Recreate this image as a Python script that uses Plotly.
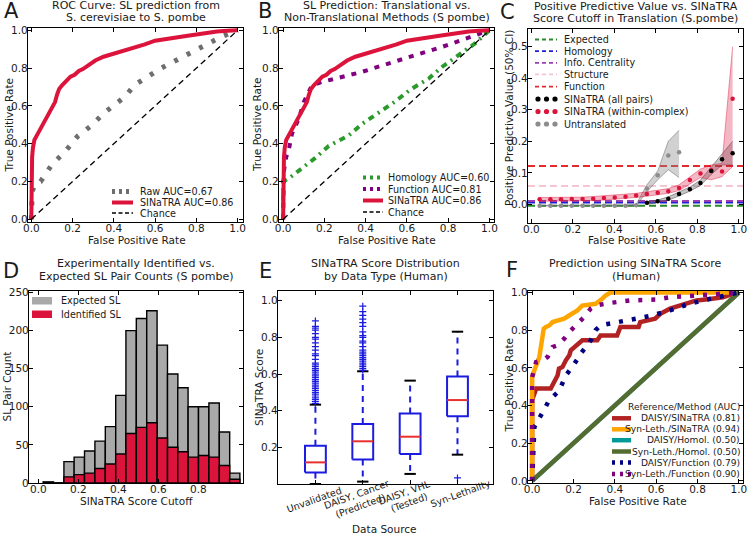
import plotly.graph_objects as go

W, H = 747, 535
FONT = "DejaVu Sans"
INK = "#1a1a1a"

# ---------------- data ----------------
# Panel A / B : ROC curves, S. pombe
sinatra_fpr = [0.0, 0.0, 0.004, 0.008, 0.015, 0.025, 0.04, 0.06, 0.075, 0.09, 0.105, 0.115, 0.125, 0.135,
               0.15, 0.17, 0.19, 0.21, 0.23, 0.25, 0.28, 0.31, 0.35, 0.4, 0.45, 0.5, 0.55, 0.6, 0.65, 0.7,
               0.75, 0.8, 0.85, 0.9, 0.95, 1.0]
sinatra_tpr = [0.0, 0.2, 0.33, 0.38, 0.42, 0.44, 0.47, 0.5, 0.53, 0.57, 0.6, 0.62, 0.66, 0.69,
               0.71, 0.735, 0.755, 0.765, 0.785, 0.795, 0.815, 0.84, 0.86, 0.875, 0.895, 0.91, 0.925, 0.945,
               0.955, 0.96, 0.97, 0.978, 0.988, 0.993, 0.997, 1.0]
raw_fpr = [0.0, 0.005, 0.02, 0.045, 0.1, 0.165, 0.225, 0.29, 0.35, 0.4, 0.455, 0.5, 0.57, 0.63, 0.7,
           0.78, 0.86, 0.92, 1.0]
raw_tpr = [0.0, 0.15, 0.19, 0.2, 0.29, 0.36, 0.44, 0.495, 0.56, 0.6, 0.65, 0.71, 0.76, 0.8, 0.84,
           0.885, 0.93, 0.965, 1.0]
chance_fpr = [0.0, 1.0]
chance_tpr = [0.0, 1.0]
homology_fpr = [0.0, 0.0, 0.027, 0.092, 0.156, 0.221, 0.318, 0.382, 0.463, 0.544, 0.616, 0.705, 0.77,
                0.85, 0.93, 1.0]
homology_tpr = [0.0, 0.2, 0.216, 0.268, 0.325, 0.388, 0.444, 0.504, 0.564, 0.624, 0.686, 0.744, 0.806,
                0.868, 0.93, 1.0]
function_fpr = [0.0, 0.003, 0.015, 0.027, 0.043, 0.076, 0.1, 0.124, 0.14, 0.19, 0.245, 0.31, 0.382,
                0.455, 0.527, 0.608, 0.689, 0.77, 0.84, 0.9, 1.0]
function_tpr = [0.0, 0.25, 0.33, 0.365, 0.453, 0.533, 0.62, 0.68, 0.709, 0.727, 0.74, 0.76, 0.78,
                0.806, 0.829, 0.859, 0.885, 0.912, 0.938, 0.965, 1.0]

# Panel C : positive predictive value
ppv_fpr = [0.04, 0.092, 0.143, 0.195, 0.247, 0.298, 0.35, 0.402, 0.454, 0.505, 0.557, 0.609, 0.66,
           0.712, 0.764, 0.815, 0.867, 0.919, 0.97]
ppv_within = [0.016, 0.016, 0.016, 0.017, 0.017, 0.018, 0.02, 0.022, 0.024, 0.028, 0.033, 0.037, 0.042,
              0.052, 0.077, 0.098, 0.108, 0.104, 0.335]
ppv_within_lo = [0.010, 0.010, 0.010, 0.011, 0.011, 0.012, 0.014, 0.016, 0.018, 0.022, 0.026, 0.030, 0.035,
                 0.044, 0.066, 0.085, 0.078, 0.088, 0.12]
ppv_within_hi = [0.022, 0.022, 0.022, 0.023, 0.023, 0.025, 0.027, 0.029, 0.031, 0.035, 0.040, 0.045, 0.050,
                 0.062, 0.088, 0.112, 0.125, 0.13, 0.50]
ppv_all_fpr = [0.557, 0.609, 0.66, 0.712, 0.764, 0.815, 0.867, 0.919, 0.97]
ppv_all = [0.005, 0.01, 0.018, 0.033, 0.048, 0.068, 0.106, 0.143, 0.162]
ppv_all_lo = [0.0, 0.006, 0.013, 0.027, 0.042, 0.06, 0.095, 0.125, 0.125]
ppv_all_hi = [0.008, 0.014, 0.024, 0.04, 0.055, 0.077, 0.117, 0.16, 0.2]
ppv_untr_fpr = [0.04, 0.092, 0.143, 0.195, 0.247, 0.298, 0.35, 0.402, 0.454, 0.505, 0.557, 0.609, 0.66, 0.712]
ppv_untr = [-0.004, -0.004, -0.004, -0.004, -0.004, -0.004, -0.004, -0.004, -0.004, -0.003, 0.05, 0.092,
            0.155, 0.165]
ppv_untr_lo = [-0.005, -0.005, -0.005, -0.005, -0.005, -0.005, -0.005, -0.005, -0.005, -0.005, 0.04, 0.078,
               0.11, 0.085]
ppv_untr_hi = [-0.003, -0.003, -0.003, -0.003, -0.003, -0.003, -0.003, -0.003, -0.002, 0.0, 0.062, 0.106,
               0.2, 0.235]
baseline_names = ["Expected", "Homology", "Info. Centrality", "Structure", "Function"]
baseline_ppv = [-0.004, 0.006, 0.011, 0.058, 0.122]

# Panel D : SL pair counts per SINaTRA score bin
score_bins = [0.050, 0.102, 0.154, 0.205, 0.257, 0.309, 0.361, 0.413, 0.464, 0.516, 0.568, 0.620, 0.672,
              0.723, 0.775, 0.827, 0.879, 0.931, 0.982]
expected_counts = [1.5, 0, 28, 34, 42, 55, 74, 115, 200, 216, 226, 181, 143, 125, 100, 100, 105, 67, 13]
identified_counts = [0, 0, 8, 11, 13, 19, 25, 38, 65, 73, 79, 59, 47, 41, 34, 36, 34, 23, 5]

# Panel E : SINaTRA score distribution (box summaries)
e_categories = [["Unvalidated"], ["DAISY, Cancer", "(Predicted)"], ["DAISY, VHL", "(Tested)"], ["Syn-Lethality"]]
e_q1 = [0.063, 0.133, 0.164, 0.369]
e_median = [0.118, 0.233, 0.258, 0.458]
e_q3 = [0.209, 0.327, 0.385, 0.587]
e_low = [0.0, 0.013, 0.055, 0.16]
e_high = [0.433, 0.615, 0.564, 0.831]
e_fliers = [
    [0.44, 0.45, 0.46, 0.47, 0.48, 0.49, 0.50, 0.51, 0.52, 0.53, 0.54, 0.55, 0.56, 0.57, 0.58, 0.59, 0.60,
     0.61, 0.62, 0.63, 0.64, 0.65, 0.66, 0.68, 0.70, 0.71, 0.73, 0.75, 0.77, 0.79, 0.80, 0.82, 0.84, 0.85,
     0.86, 0.89],
    [0.62, 0.63, 0.64, 0.65, 0.66, 0.67, 0.68, 0.69, 0.70, 0.71, 0.72, 0.73, 0.75, 0.77, 0.78, 0.80, 0.81,
     0.83, 0.86, 0.88, 0.90, 0.92, 0.94, 0.97],
    [],
    [0.033],
]

# Panel F : human ROC curves
daisy_sin_fpr = [0.0, 0.0, 0.02, 0.09, 0.107, 0.123, 0.13, 0.147, 0.163, 0.18, 0.187, 0.203, 0.227, 0.243,
                 0.315, 0.331, 0.411, 0.427, 0.515, 0.523, 0.595, 0.62, 0.667, 0.715, 0.795, 0.86, 0.923,
                 0.971, 1.0]
daisy_sin_tpr = [0.0, 0.43, 0.49, 0.49, 0.526, 0.56, 0.596, 0.605, 0.64, 0.667, 0.693, 0.71, 0.728, 0.746,
                 0.746, 0.772, 0.772, 0.817, 0.817, 0.843, 0.861, 0.887, 0.914, 0.931, 0.958, 0.966, 0.975,
                 0.993, 1.0]
syn_sin_fpr = [0.0, 0.0, 0.011, 0.024, 0.035, 0.046, 0.056, 0.067, 0.083, 0.099, 0.123, 0.155, 0.179, 0.203,
               0.219, 0.243, 0.307, 0.339, 0.355, 0.379, 1.0]
syn_sin_tpr = [0.0, 0.552, 0.587, 0.631, 0.658, 0.737, 0.808, 0.817, 0.825, 0.843, 0.852, 0.861, 0.878,
               0.896, 0.905, 0.931, 0.94, 0.966, 0.984, 1.0, 1.0]
daisy_hom_fpr = [0.0, 1.0]
daisy_hom_tpr = [0.0, 1.0]
syn_hom_fpr = [0.0, 1.0]
syn_hom_tpr = [0.0, 1.0]
daisy_fun_fpr = [0.0, 0.005, 0.011, 0.059, 0.083, 0.123, 0.139, 0.163, 0.2, 0.235, 0.283, 0.307, 0.33, 0.4,
                 0.49, 0.57, 0.667, 0.76, 0.86, 0.94, 1.0]
daisy_fun_tpr = [0.0, 0.1, 0.287, 0.38, 0.43, 0.47, 0.5, 0.56, 0.614, 0.675, 0.745, 0.8, 0.825, 0.84, 0.86,
                 0.875, 0.905, 0.94, 0.966, 0.985, 1.0]
syn_fun_fpr = [0.0, 0.0, 0.019, 0.051, 0.075, 0.099, 0.123, 0.155, 0.187, 0.219, 0.251, 0.283, 0.307, 0.379,
               0.475, 0.603, 0.667, 0.795, 0.923, 1.0]
syn_fun_tpr = [0.0, 0.55, 0.631, 0.64, 0.658, 0.711, 0.72, 0.755, 0.799, 0.834, 0.869, 0.914, 0.931, 0.945,
               0.958, 0.963, 0.975, 0.984, 0.993, 1.0]

# ---------------- styles / layout ----------------
CRIMSON = "#dc143c"
PURPLE = "#800080"
GREEN = "#2a9a2a"

# panel boxes in pixels: left, right, top, bottom
boxes = {
    1: (28, 243, 28, 222),
    2: (279, 494, 28, 222),
    3: (528, 743, 29, 223),
    4: (29, 243, 291, 483),
    5: (278, 493, 291, 484),
    6: (528, 743, 291, 483),
}
ranges = {
    1: ([-0.016, 1.026], [-0.014, 1.012]),
    2: ([-0.02, 1.022], [-0.014, 1.012]),
    3: ([-0.016, 1.02], [-0.059, 0.556]),
    4: ([-0.0465, 1.0235], [0, 252]),
    5: ([0.21, 4.75], [0.0, 1.053]),
    6: ([-0.02, 1.02], [-0.011, 1.008]),
}
ticks = {
    1: ([0, 0.2, 0.4, 0.6, 0.8, 1.0], [0, 0.2, 0.4, 0.6, 0.8, 1.0], ".1f", ".1f"),
    2: ([0, 0.2, 0.4, 0.6, 0.8, 1.0], [0, 0.2, 0.4, 0.6, 0.8, 1.0], ".1f", ".1f"),
    3: ([0, 0.2, 0.4, 0.6, 0.8, 1.0], [0, 0.1, 0.2, 0.3, 0.4, 0.5], ".1f", ".1f"),
    4: ([0, 0.2, 0.4, 0.6, 0.8], [0, 50, 100, 150, 200, 250], ".1f", "d"),
    5: ([1, 2, 3, 4], [0.2, 0.4, 0.6, 0.8, 1.0], "", ".1f"),
    6: ([0, 0.2, 0.4, 0.6, 0.8, 1.0], [0, 0.2, 0.4, 0.6, 0.8, 1.0], ".1f", ".1f"),
}

def ax_style(rng, vals, fmt, dom, anchor, standoff):
    d = dict(domain=dom, range=rng, anchor=anchor, showline=True, linecolor="black", linewidth=1.3,
             mirror="ticks", ticks="inside", ticklen=4, tickwidth=1, tickcolor="black",
             showgrid=False, zeroline=False, tickvals=vals, automargin=False,
             ticklabelstandoff=standoff, ticklabeloverflow="allow",
             tickfont=dict(family=FONT, size=10.5, color=INK))
    if fmt:
        d["tickformat"] = fmt
    else:
        d["showticklabels"] = False
    return d

layout = dict(width=W, height=H, margin=dict(l=0, r=0, t=0, b=0, pad=0, autoexpand=False),
              showlegend=False, plot_bgcolor="white", paper_bgcolor="white", barmode="overlay",
              font=dict(family=FONT, color=INK))
for i, (l, r, t, b) in boxes.items():
    sfx = "" if i == 1 else str(i)
    xr, yr = ranges[i]
    xt, yt, xf, yf = ticks[i]
    layout["xaxis" + sfx] = ax_style(xr, xt, xf, [l / W, r / W], "y" + sfx, -4)
    layout["yaxis" + sfx] = ax_style(yr, yt, yf, [1 - b / H, 1 - t / H], "x" + sfx, -3)

fig = go.Figure()
shapes = []
annotations = []

def ax(i):
    return ("x", "y") if i == 1 else ("x%d" % i, "y%d" % i)

def line_trace(i, x, y, color, width, dash="solid"):
    xa, ya = ax(i)
    fig.add_trace(go.Scatter(x=x, y=y, mode="lines", xaxis=xa, yaxis=ya,
                             line=dict(color=color, width=width, dash=dash)))

# ---- Panel A
line_trace(1, raw_fpr, raw_tpr, "#6e6e6e", 5, "4px,10px")
line_trace(1, sinatra_fpr, sinatra_tpr, CRIMSON, 4)
line_trace(1, chance_fpr, chance_tpr, "black", 1.3, "6px,4px")

# ---- Panel B
line_trace(2, homology_fpr, homology_tpr, GREEN, 4, "6px,5px,2px,5px")
line_trace(2, function_fpr, function_tpr, PURPLE, 4, "5px,7px")
line_trace(2, sinatra_fpr, sinatra_tpr, CRIMSON, 4)
line_trace(2, chance_fpr, chance_tpr, "black", 1.3, "6px,4px")

# ---- Panel C
base_colors = ["#2a8a2a", "#1f1fd6", "#9a3fb0", "#f5c6d2", "#e42a2a"]
for v, c in zip(baseline_ppv, base_colors):
    shapes.append(dict(type="line", xref="x3 domain", yref="y3", x0=0, x1=1, y0=v, y1=v, layer="below",
                       line=dict(color=c, width=2, dash="7px,4px")))

def band(x, lo, hi, fillc, edgec):
    fig.add_trace(go.Scatter(x=x, y=lo, mode="lines", xaxis="x3", yaxis="y3",
                             line=dict(color=edgec, width=0.8)))
    fig.add_trace(go.Scatter(x=x, y=hi, mode="lines", xaxis="x3", yaxis="y3", fill="tonexty",
                             fillcolor=fillc, line=dict(color=edgec, width=0.8)))

band(ppv_untr_fpr, ppv_untr_lo, ppv_untr_hi, "rgba(140,140,140,0.4)", "rgba(90,90,90,0.6)")
band(ppv_all_fpr, ppv_all_lo, ppv_all_hi, "rgba(110,110,110,0.4)", "rgba(60,60,60,0.6)")
band(ppv_fpr, ppv_within_lo, ppv_within_hi, "rgba(220,20,60,0.3)", "rgba(220,20,60,0.55)")

def dots(x, y, color):
    fig.add_trace(go.Scatter(x=x, y=y, mode="markers", xaxis="x3", yaxis="y3",
                             marker=dict(color=color, size=4.5, line=dict(width=0))))

dots(ppv_untr_fpr, ppv_untr, "#8c8c8c")
dots(ppv_fpr, ppv_within, CRIMSON)
dots(ppv_all_fpr, ppv_all, "black")

# ---- Panel D
BIN_W = 0.0518
fig.add_trace(go.Bar(x=score_bins, y=expected_counts, width=BIN_W, xaxis="x4", yaxis="y4",
                     marker=dict(color="#a9a9a9", line=dict(color="black", width=1.4))))
fig.add_trace(go.Bar(x=score_bins, y=identified_counts, width=BIN_W, xaxis="x4", yaxis="y4",
                     marker=dict(color=CRIMSON, line=dict(color="black", width=1.4))))

# ---- Panel E
HW, CAP = 0.22, 0.12
BLUE = "#1c1ce0"
# rotated category labels: (x shift px, y centre px) for each text line
e_label_pos = [[(-1, 499)], [(-7, 494), (-2, 505)], [(-6, 492), (-1.5, 502.5)], [(3, 493.5)]]
for k, lines in enumerate(e_categories):
    p = k + 1
    line_trace(5, [p, p], [e_q3[k], e_high[k]], BLUE, 2, "6px,5px")
    line_trace(5, [p, p], [e_q1[k], e_low[k]], BLUE, 2, "6px,5px")
    line_trace(5, [p - CAP, p + CAP], [e_high[k], e_high[k]], "black", 2)
    line_trace(5, [p - CAP, p + CAP], [e_low[k], e_low[k]], "black", 2)
    line_trace(5, [p - HW, p + HW, p + HW, p - HW, p - HW],
               [e_q1[k], e_q1[k], e_q3[k], e_q3[k], e_q1[k]], BLUE, 2)
    line_trace(5, [p - HW, p + HW], [e_median[k], e_median[k]], "#e8302f", 2)
    if e_fliers[k]:
        fig.add_trace(go.Scatter(x=[p] * len(e_fliers[k]), y=e_fliers[k], mode="markers",
                                 xaxis="x5", yaxis="y5",
                                 marker=dict(symbol="cross-thin", size=5, color=BLUE,
                                             line=dict(color=BLUE, width=1.2))))
    for s, (dx, yc) in zip(lines, e_label_pos[k]):
        annotations.append(dict(xref="x5", yref="paper", x=p, xshift=dx, y=1 - yc / H, text=s,
                                showarrow=False, xanchor="center", yanchor="middle", textangle=-20,
                                borderpad=0, font=dict(family=FONT, size=9.6, color=INK)))

# ---- Panel F
F_RED, F_ORANGE, F_TEAL, F_OLIVE, F_NAVY = "#b22222", "#ffa500", "#009999", "#556b2f", "#000080"
line_trace(6, daisy_sin_fpr, daisy_sin_tpr, F_RED, 4.5)
line_trace(6, syn_sin_fpr, syn_sin_tpr, F_ORANGE, 4.5)
line_trace(6, daisy_hom_fpr, daisy_hom_tpr, F_TEAL, 4.5)
line_trace(6, syn_hom_fpr, syn_hom_tpr, F_OLIVE, 4.5)
line_trace(6, daisy_fun_fpr, daisy_fun_tpr, F_NAVY, 4.5, "4px,9px")
line_trace(6, syn_fun_fpr, syn_fun_tpr, PURPLE, 4.5, "4px,9px")

# ---------------- text & legends ----------------
def text(x, y, s, size=10.5, xanchor="center", yanchor="middle", angle=0):
    annotations.append(dict(xref="paper", yref="paper", x=x / W, y=1 - y / H, text=s, showarrow=False,
                            xanchor=xanchor, yanchor=yanchor, textangle=angle, borderpad=0,
                            font=dict(family=FONT, size=size, color=INK)))

def sw_line(x0, x1, y, color, width, dash="solid"):
    shapes.append(dict(type="line", xref="paper", yref="paper", x0=x0 / W, x1=x1 / W,
                       y0=1 - y / H, y1=1 - y / H, line=dict(color=color, width=width, dash=dash)))

def sw_dot(x, y, color):
    shapes.append(dict(type="circle", xref="paper", yref="paper", xsizemode="pixel", ysizemode="pixel",
                       xanchor=x / W, yanchor=1 - y / H, x0=-2.6, x1=2.6, y0=-2.6, y1=2.6,
                       fillcolor=color, line=dict(width=0)))

def sw_rect(x0, x1, y0, y1, color):
    shapes.append(dict(type="rect", xref="paper", yref="paper", x0=x0 / W, x1=x1 / W,
                       y0=1 - y1 / H, y1=1 - y0 / H, fillcolor=color, line=dict(width=0)))

# panel letters
for s, (x, y) in zip("ABCDEF", [(11.5, 11), (265, 11), (507, 12), (11, 271), (265, 271), (512, 269.5)]):
    text(x, y, s, size=21)

# titles
TT = 11
text(135.5, 5.5, "ROC Curve: SL prediction from", TT)
text(135.5, 18, "S. cerevisiae to S. pombe", TT)
text(386.5, 5.5, "SL Prediction: Translational vs.", TT)
text(386.5, 18, "Non-Translational Methods (S pombe)", TT)
text(635.5, 6.5, "Positive Predictive Value vs. SINaTRA", TT)
text(635.5, 19, "Score Cutoff in Translation (S.pombe)", TT)
text(136, 263.5, "Experimentally Identified vs.", TT)
text(136, 276, "Expected SL Pair Counts (S pombe)", TT)
text(385.5, 263.5, "SINaTRA Score Distribution", TT)
text(385.5, 276, "by Data Type (Human)", TT)
text(635.5, 263.5, "Prediction using SINaTRA Score", TT)
text(635.5, 276, "(Human)", TT)

# axis titles
AT = 10.5
text(136.5, 239.5, "False Positive Rate", AT)
text(386.5, 239.5, "False Positive Rate", AT)
text(636.5, 239.5, "False Positive Rate", AT)
text(136.5, 501, "SINaTRA Score Cutoff", AT)
text(383.5, 528.5, "Data Source", AT)
text(638, 500.5, "False Positive Rate", AT)
text(8.5, 125, "True Positive Rate", AT, angle=-90)
text(257, 125, "True Positive Rate", AT, angle=-90)
text(509, 118, "Positive Predictive Value (50% CI)", AT, angle=-90)
text(6.5, 387, "SL Pair Count", AT, angle=-90)
text(259, 388, "SINaTRA Score", AT, angle=-90)
text(508.5, 385, "True Positive Rate", AT, angle=-90)

LT = 9.6
# legend A
sw_line(112, 133, 191.5, "#6e6e6e", 5, "3px,4px")
sw_line(112, 133, 202.5, CRIMSON, 4)
sw_line(112, 133, 213, "black", 1.3, "4px,2.5px")
text(139, 191.5, "Raw AUC=0.67", LT, xanchor="left")
text(139, 202.5, "SINaTRA AUC=0.86", LT, xanchor="left")
text(139, 213, "Chance", LT, xanchor="left")

# legend B
sw_line(363, 383, 177.5, GREEN, 4, "3px,4px")
sw_line(363, 383, 189, PURPLE, 4, "3px,4px")
sw_line(363, 383, 200.5, CRIMSON, 4)
sw_line(363, 383, 212, "black", 1.3, "4px,2.5px")
text(387, 177.5, "Homology AUC=0.60", LT, xanchor="left")
text(387, 189, "Function AUC=0.81", LT, xanchor="left")
text(387, 200.5, "SINaTRA AUC=0.86", LT, xanchor="left")
text(387, 212, "Chance", LT, xanchor="left")

# legend C
c_rows = [39.5, 51.2, 62.9, 74.4, 86.6, 99, 111.5, 124]
for k, (nm, c) in enumerate(zip(baseline_names, base_colors)):
    sw_line(535, 557, c_rows[k], c, 1.8, "4px,3px")
    text(563, c_rows[k], nm, LT, xanchor="left")
for k, (nm, c) in enumerate(zip(["SINaTRA (all pairs)", "SINaTRA (within-complex)", "Untranslated"],
                                ["black", CRIMSON, "#8c8c8c"])):
    y = c_rows[5 + k]
    for xx in (538, 546.5, 555):
        sw_dot(xx, y, c)
    text(563, y, nm, LT, xanchor="left")

# legend D
sw_rect(32, 52, 297, 304.5, "#a9a9a9")
sw_rect(32, 52, 310.5, 318, CRIMSON)
text(60, 300.5, "Expected SL", LT, xanchor="left")
text(60, 314.3, "Identified SL", LT, xanchor="left")

# legend F
FT = 9.1
text(741, 406.5, "Reference/Method (AUC)", FT, xanchor="right")
f_rows = [418.3, 429.3, 440.2, 451.5, 462.5, 474]
f_items = [("DAISY/SINaTRA (0.81)", F_RED, "solid"), ("Syn-Leth./SINaTRA (0.94)", F_ORANGE, "solid"),
           ("DAISY/Homol. (0.50)", F_TEAL, "solid"), ("Syn-Leth./Homol. (0.50)", F_OLIVE, "solid"),
           ("DAISY/Function (0.79)", F_NAVY, "3px,5px"), ("Syn-Leth./Function (0.90)", PURPLE, "3px,5px")]
for y, (nm, c, d) in zip(f_rows, f_items):
    sw_line(612, 631, y, c, 4.5, d)
    text(741, y, nm, FT, xanchor="right")

layout["shapes"] = shapes
layout["annotations"] = annotations
fig.update_layout(**layout)
# the page's default 8px body margin would shift the fixed-size figure; remove it
fig.write_html("out.html", config={"displayModeBar": False},
               post_script="document.body.style.margin='0px';")
